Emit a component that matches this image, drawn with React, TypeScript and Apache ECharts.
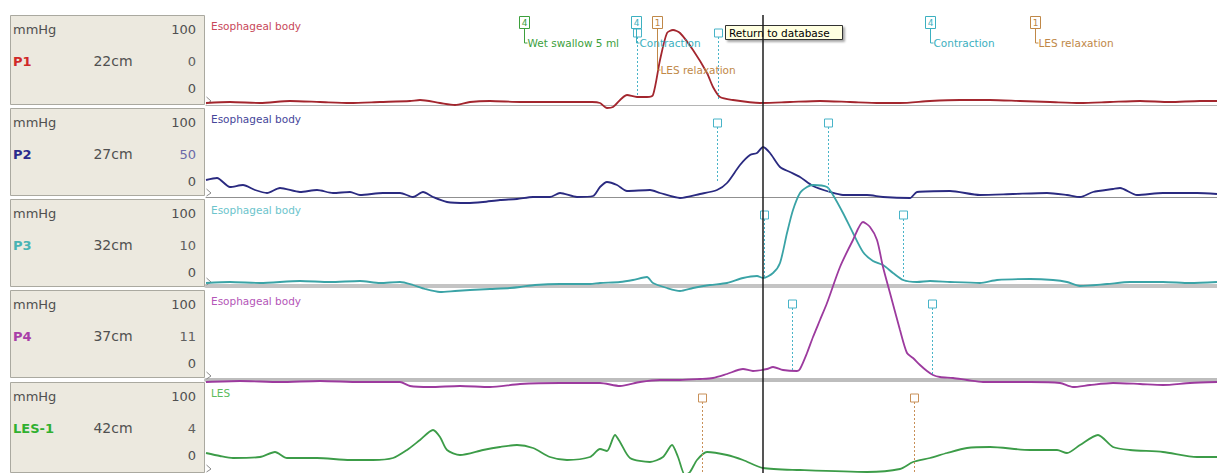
import React, { useEffect, useRef } from "react";
import * as echarts from "echarts";

// ---------- data ----------
const CHANNELS = ["P1", "P2", "P3", "P4", "LES-1"];
const DEPTHS = ["22cm", "27cm", "32cm", "37cm", "42cm"];
const CURSOR_READOUT = ["0", "50", "10", "11", "4"];
const UNIT_LABEL = "mmHg";
const SCALE_TOP_LABEL = "100";
const SCALE_ZERO_LABEL = "0";
const PANEL_TITLES = ["Esophageal body", "Esophageal body", "Esophageal body", "Esophageal body", "LES"];

// time in samples, pressure in mmHg
const P1_TRACE = [
  [0, 2], [24, 3], [54, 2], [84, 4], [114, 3], [144, 2], [174, 3], [204, 4], [214, 5], [234, 2],
  [249, 0], [264, 3], [284, 4], [314, 3], [354, 3], [386, 3], [394, 2], [401, -3], [407, -2],
  [421, 10], [431, 8], [441, 8], [447, 10], [454, 45], [461, 72], [467, 75], [474, 72], [487, 55],
  [501, 32], [507, 18], [514, 8], [527, 5], [554, 2], [584, 3], [614, 4], [644, 3], [674, 2],
  [694, 2], [724, 4], [754, 5], [784, 5], [814, 4], [844, 3], [874, 2], [904, 3], [934, 4],
  [964, 3], [994, 4], [1011, 4],
];
const P2_TRACE = [
  [0, 17], [11, 19], [24, 10], [37, 12], [49, 7], [61, 4], [74, 9], [94, 5], [111, 7], [127, 4],
  [144, 5], [154, 2], [177, 4], [194, 4], [207, 0], [217, 5], [227, 0], [241, -5], [261, -6],
  [277, -5], [294, -3], [311, -2], [327, 0], [344, 0], [354, 4], [371, 0], [387, 1], [394, 10],
  [401, 15], [411, 12], [421, 6], [444, 7], [454, 4], [474, -1], [494, 3], [511, 7], [521, 14],
  [534, 32], [544, 42], [551, 44], [557, 50], [564, 44], [574, 30], [584, 25], [594, 20],
  [607, 11], [624, 5], [637, 2], [661, 2], [677, 0], [704, -1], [711, 5], [744, 6], [774, 2],
  [807, 3], [841, 4], [861, 2], [874, 0], [887, 5], [907, 8], [914, 9], [931, 2], [957, 4],
  [991, 4], [1011, 3],
];
const P3_TRACE = [
  [0, 3], [24, 4], [54, 3], [94, 5], [124, 4], [154, 5], [174, 3], [194, 4], [207, 1], [219, -3],
  [234, -6], [249, -5], [264, -4], [284, -3], [304, -2], [314, -1], [329, 1], [354, 2], [384, 2],
  [394, 3], [414, 4], [427, 6], [441, 9], [447, 3], [461, -2], [474, -5], [487, -2], [504, 1],
  [521, 3], [537, 8], [551, 10], [557, 8], [567, 13], [574, 23], [581, 53], [587, 76], [594, 93],
  [601, 99], [607, 101], [621, 99], [627, 91], [637, 73], [647, 53], [657, 34], [667, 25],
  [677, 21], [687, 13], [697, 6], [711, 4], [724, 5], [744, 4], [774, 3], [791, 6], [824, 7],
  [847, 6], [861, 4], [874, 0], [901, 2], [924, 4], [957, 4], [984, 3], [1011, 4],
];
const P4_TRACE = [
  [0, -2], [34, -1], [74, -2], [114, -1], [154, -2], [194, -2], [204, -6], [224, -7], [254, -6],
  [284, -7], [314, -4], [354, -3], [394, -3], [414, -6], [434, -2], [454, 0], [474, 0], [494, 1],
  [507, 2], [521, 6], [537, 11], [547, 9], [561, 11], [567, 13], [577, 10], [591, 9], [594, 11],
  [601, 27], [607, 43], [614, 60], [621, 77], [634, 113], [647, 140], [657, 158], [664, 153],
  [671, 140], [677, 113], [684, 87], [694, 50], [701, 27], [707, 22], [714, 15], [721, 9],
  [727, 5], [734, 3], [747, 2], [761, 0], [777, -2], [794, -2], [824, -2], [854, -3], [867, -7],
  [884, -5], [907, -3], [934, -4], [957, -5], [984, -3], [1011, -2],
];
const LES_TRACE = [
  [0, 20], [14, 17], [27, 15], [54, 16], [69, 21], [81, 15], [111, 15], [144, 13], [167, 13],
  [187, 15], [201, 23], [214, 33], [227, 43], [234, 36], [241, 23], [254, 18], [277, 23],
  [294, 26], [311, 28], [327, 25], [344, 16], [361, 13], [384, 16], [394, 24], [401, 22],
  [409, 38], [414, 31], [424, 15], [444, 11], [457, 16], [466, 28], [472, 16], [479, -2],
  [484, 1], [491, 13], [501, 21], [521, 18], [537, 13], [557, 5], [594, 3], [661, 1], [694, 4],
  [707, 11], [724, 15], [741, 20], [761, 25], [784, 26], [824, 23], [851, 23], [861, 20],
  [874, 28], [892, 38], [907, 26], [924, 23], [957, 21], [991, 16], [1011, 16],
];

// channel markers: [time, pressure where the dashed drop line ends]
const P1_MARKS = [[431, 8], [512, 5]];
const P2_MARKS = [[511, 14], [622, 5]];
const P3_MARKS = [[558, 9], [697, 6]];
const P4_MARKS = [[586, 8], [726, 5]];
const LES_MARKS = [[496, 0], [708, 0]];

// events shown above P1
const EVENT_T = [318, 430, 451, 724, 829];
const EVENT_IDS = ["4", "4", "1", "4", "1"];
const EVENT_LABELS = ["Wet swallow 5 ml", "Contraction", "LES relaxation", "Contraction", "LES relaxation"];
const EVENT_KIND = [0, 1, 2, 1, 2];

const CURSOR_T = 557;
const TIME_MAX = 1011;
const TOOLTIP_TEXT = "Return to database";

// ---------- styling / layout ----------
const TRACES = [P1_TRACE, P2_TRACE, P3_TRACE, P4_TRACE, LES_TRACE];
const MARKS = [P1_MARKS, P2_MARKS, P3_MARKS, P4_MARKS, LES_MARKS];
const TRACE_COLORS = ["#a3262e", "#2a2a80", "#3aa3a6", "#9c3a9e", "#3c9c48"];
const TITLE_COLORS = ["#c8485a", "#46469a", "#6cc4cc", "#b456b8", "#5cbc5c"];
const NAME_COLORS = ["#d02828", "#2a2a8c", "#48b4b4", "#a840a8", "#30b030"];
const READOUT_COLORS = ["#606060", "#6a6aa8", "#606060", "#606060", "#606060"];
const MARK_COLORS = ["#48b4c8", "#48b4c8", "#48b4c8", "#48b4c8", "#c89058"];
const EVENT_COLORS = ["#3ca03c", "#3cb0c0", "#c08848"];
const EVENT_ROW = [0, 0, 1, 0, 0];
const SEP_STYLE = [
  { color: "#b4b4b4", width: 1 },
  { color: "#909090", width: 1 },
  { color: "#c4c4c4", width: 4 },
  { color: "#bdbdbd", width: 4 },
  null,
];

const ZERO_Y = [105, 197, 286, 380, 473];
const GRID_TOP = [15, 105, 197, 286, 380];
const BOX_TOP = [15, 108, 199, 290, 382];
const BOX_BOTTOM = [105, 196, 287, 378, 473];
const PLOT_LEFT = 206;
const FONT = "DejaVu Sans";

function buildOption() {
  const grid: any[] = [];
  const xAxis: any[] = [];
  const yAxis: any[] = [];
  const series: any[] = [];
  const graphic: any[] = [];

  for (let i = 0; i < 5; i++) {
    const h = ZERO_Y[i] - GRID_TOP[i];
    grid.push({ left: PLOT_LEFT, right: 0, top: GRID_TOP[i], height: h, containLabel: false });
    const sep = SEP_STYLE[i];
    xAxis.push({
      type: "value", gridIndex: i, min: 0, max: TIME_MAX, position: "bottom",
      axisLine: { show: !!sep, onZero: false, lineStyle: sep ? { color: sep.color, width: sep.width } : {} },
      axisTick: { show: false }, axisLabel: { show: false }, splitLine: { show: false },
    });
    yAxis.push({ type: "value", gridIndex: i, min: 0, max: h, show: false, splitLine: { show: false } });

    series.push({
      type: "line", xAxisIndex: i, yAxisIndex: i, data: TRACES[i], symbol: "none", showSymbol: false,
      clip: false, z: 3, silent: true, smooth: 0.25,
      lineStyle: { color: TRACE_COLORS[i], width: 1.8 },
      markLine: {
        silent: true, symbol: "none", label: { show: false }, animation: false,
        lineStyle: { color: "#1c1c1c", width: 1.5, type: "solid" },
        data: [{ xAxis: CURSOR_T }],
      },
    });

    const mColor = MARK_COLORS[i];
    series.push({
      type: "custom", xAxisIndex: i, yAxisIndex: i, data: MARKS[i], z: 4, silent: true,
      renderItem: (params: any, api: any) => {
        const p = api.coord([api.value(0), api.value(1)]);
        const x = Math.round(p[0]) + 0.5;
        const cy = params.coordSys.y + 18;
        return {
          type: "group",
          children: [
            { type: "line", shape: { x1: x, y1: cy + 4, x2: x, y2: p[1] }, style: { stroke: mColor, lineWidth: 1, lineDash: [2, 2] } },
            { type: "rect", shape: { x: x - 4, y: cy - 4, width: 8, height: 8 }, style: { stroke: mColor, fill: "#ffffff", lineWidth: 1 } },
          ],
        };
      },
    });

    // left label box
    const bt = BOX_TOP[i];
    graphic.push({
      type: "rect", shape: { x: 10.5, y: bt + 0.5, width: 194, height: BOX_BOTTOM[i] - bt - 1 },
      style: { fill: "#ece9df", stroke: "#aaa9a0", lineWidth: 1 }, z: 1,
    });
    const txt = (text: string, x: number, y: number, align: string, fill: string, size = 13, weight = "normal") => ({
      type: "text", z: 2,
      style: { text, x, y, fill, fontSize: size, fontFamily: FONT, fontWeight: weight, align, verticalAlign: "middle" },
    });
    graphic.push(txt(UNIT_LABEL, 13, bt + 14, "left", "#505050"));
    graphic.push(txt(SCALE_TOP_LABEL, 196, bt + 14, "right", "#505050"));
    graphic.push(txt(CHANNELS[i], 13, bt + 46, "left", NAME_COLORS[i], 13, "bold"));
    graphic.push(txt(DEPTHS[i], 113, bt + 46, "center", "#505050", 14));
    graphic.push(txt(CURSOR_READOUT[i], 196, bt + 46, "right", READOUT_COLORS[i]));
    graphic.push(txt(SCALE_ZERO_LABEL, 196, bt + 73, "right", "#505050"));
    // panel title
    graphic.push(txt(PANEL_TITLES[i], 211, bt + 11, "left", TITLE_COLORS[i], 10.5));
    // zero marker
    const z = ZERO_Y[i];
    graphic.push({
      type: "polyline", z: 2,
      shape: { points: [[206.5, z - 8], [211, z - 4], [206.5, z - 1]] },
      style: { stroke: "#8a8a8a", fill: "none", lineWidth: 1 },
    });
  }

  // events above P1
  series.push({
    type: "custom", xAxisIndex: 0, yAxisIndex: 0, z: 5, silent: true,
    data: EVENT_T.map((t, k) => [t, k]),
    renderItem: (params: any, api: any) => {
      const k = params.dataIndex;
      const x = Math.round(api.coord([api.value(0), 0])[0]) + 0.5;
      const top = params.coordSys.y + 1.5;
      const c = EVENT_COLORS[EVENT_KIND[k]];
      const ly = params.coordSys.y + (EVENT_ROW[k] ? 55 : 28);
      return {
        type: "group",
        children: [
          { type: "polyline", shape: { points: [[x, top + 12], [x, ly], [x + 3, ly]] }, style: { stroke: c, fill: "none", lineWidth: 1 } },
          { type: "rect", shape: { x: x - 5, y: top, width: 10, height: 12 }, style: { stroke: c, fill: "#ffffff", lineWidth: 1 } },
          { type: "text", style: { text: EVENT_IDS[k], x: x, y: top + 6.5, fill: c, fontSize: 9, fontFamily: FONT, align: "center", verticalAlign: "middle" } },
          { type: "text", style: { text: EVENT_LABELS[k], x: x + 3, y: ly, fill: c, fontSize: 10.5, fontFamily: FONT, align: "left", verticalAlign: "middle" } },
        ],
      };
    },
  });

  // hover tooltip
  graphic.push({
    type: "group", left: 725, top: 25, z: 50,
    children: [
      { type: "rect", shape: { x: 0.5, y: 0.5, width: 117, height: 14 }, style: { fill: "#ffffe1", stroke: "#303030", lineWidth: 1, shadowBlur: 2, shadowOffsetX: 2, shadowOffsetY: 2, shadowColor: "rgba(0,0,0,0.35)" } },
      { type: "text", style: { text: TOOLTIP_TEXT, x: 4, y: 8, fill: "#000000", fontSize: 10.5, fontFamily: FONT, align: "left", verticalAlign: "middle" } },
    ],
  });

  return { animation: false, backgroundColor: "#ffffff", grid, xAxis, yAxis, series, graphic };
}

export default function App() {
  const ref = useRef<HTMLDivElement>(null);
  useEffect(() => {
    if (!ref.current) return;
    const chart = echarts.init(ref.current, null, { renderer: "svg" });
    chart.setOption(buildOption() as any);
    return () => chart.dispose();
  }, []);
  return (
    <div
      ref={ref}
      style={{ position: "fixed", left: 0, top: 0, width: 1217, height: 473, background: "#ffffff" }}
    />
  );
}
